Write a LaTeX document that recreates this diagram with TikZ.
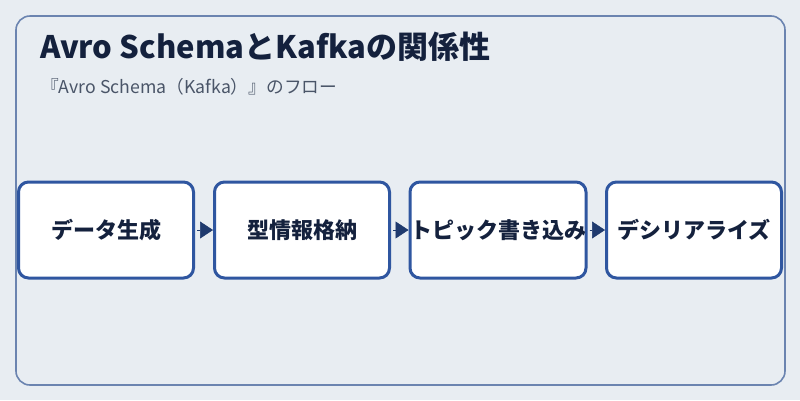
\documentclass[tikz,border=0pt]{standalone}
\usepackage{fontspec}
\setmainfont{Noto Sans CJK JP}
\usetikzlibrary{arrows.meta}
\definecolor{bgc}{HTML}{E8EDF2}
\definecolor{framec}{HTML}{6B84B0}
\definecolor{boxc}{HTML}{2F56A0}
\definecolor{arrc}{HTML}{1F3A6E}
\definecolor{txtc}{HTML}{14213D}
\definecolor{subc}{HTML}{4A5568}
\tikzset{
  stepbox/.style={draw=boxc, line width=3pt, fill=white, rounded corners=10pt,
    minimum width=175pt, minimum height=96pt, inner sep=0pt, outer sep=1.5pt,
    text=txtc, font=\fontsize{22pt}{25pt}\selectfont\bfseries},
  flow/.style={draw=arrc, fill=arrc, line width=0.5pt, shorten <=2pt,
    -{Triangle[length=13pt,width=17pt]}}
}
\begin{document}
\begin{tikzpicture}[x=1pt,y=-1pt]
\fill[bgc] (0,0) rectangle (800,400);
\useasboundingbox (0,0) rectangle (800,400);
\draw[framec, line width=1.6pt, rounded corners=14pt] (16,16) rectangle (785,385);
\node[anchor=base west, text=txtc, font=\fontsize{31pt}{35pt}\selectfont\bfseries, inner sep=0pt] (title) at (40,58.3) {Avro SchemaとKafkaの関係性};
\node[anchor=base west, text=subc, font=\fontsize{17.7pt}{21pt}\selectfont, inner sep=0pt] (sub) at (41,93.3) {『Avro Schema（Kafka）』のフロー};
\node[stepbox] (s1) at (106,230) {データ生成};
\node[stepbox] (s2) at (302,230) {型情報格納};
\node[stepbox] (s3) at (498,230) {トピック書き込み};
\node[stepbox] (s4) at (694,230) {デシリアライズ};
\draw[flow] (s1.east) -- (s2.west);
\draw[flow] (s2.east) -- (s3.west);
\draw[flow] (s3.east) -- (s4.west);
\end{tikzpicture}
\end{document}
